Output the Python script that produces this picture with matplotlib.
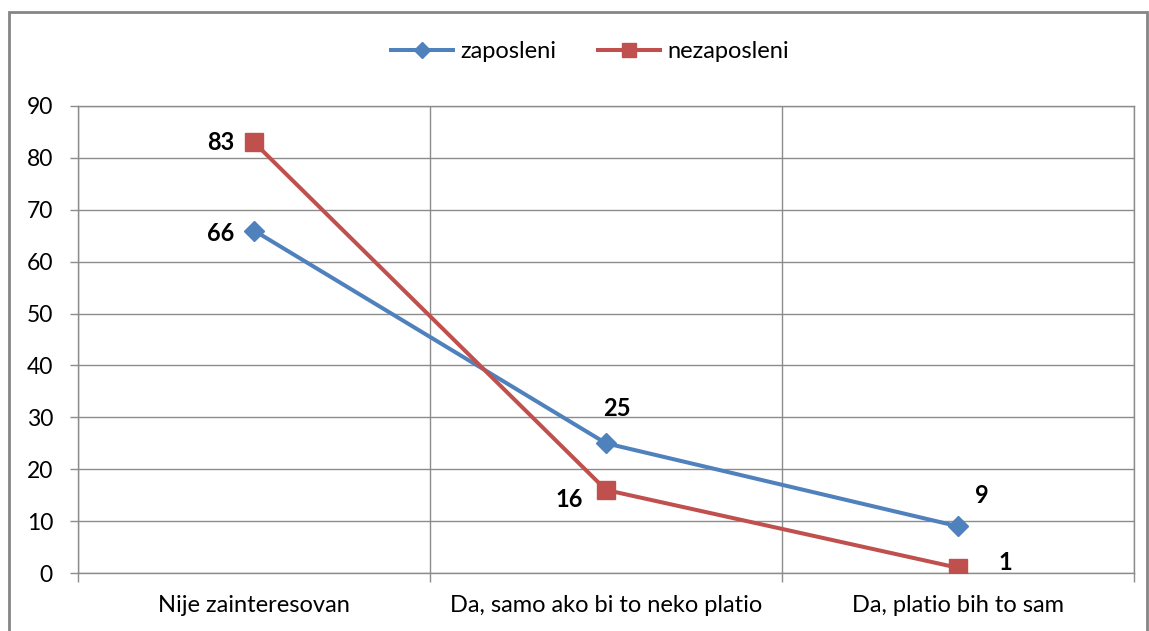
import matplotlib.pyplot as plt
from matplotlib.patches import Rectangle

plt.rcParams['font.family'] = ['Lato', 'DejaVu Sans']

categories = ["Nije zainteresovan", "Da, samo ako bi to neko platio", "Da, platio bih to sam"]
zaposleni = [66, 25, 9]
nezaposleni = [83, 16, 1]

# label offsets in pixels (dx, dy) from each point, plus alignment
zap_offsets = [(-20, -3, "right"), (11, 35, "center"), (24, 31, "center")]
nez_offsets = [(-20, 0, "right"), (-37, -10, "center"), (47, 5, "center")]

BLUE = "#4F81BD"
RED = "#C0504D"
GRID = "#8C8C8C"
PX = 0.72  # points per pixel at dpi 100

fig = plt.figure(figsize=(11.49, 6.31), dpi=100)
ax = fig.add_axes([78 / 1149, 1 - 573 / 631, (1134 - 78) / 1149, (573 - 106) / 631])

# outer chart frame
fig.patches.append(Rectangle((9 / 1149, -0.05), (1147 - 9) / 1149, 1.05 - 12 / 631,
                             transform=fig.transFigure, fill=False,
                             edgecolor="#858585", linewidth=2))

x = range(len(categories))
ax.plot(x, zaposleni, color=BLUE, linewidth=2.9, marker="D", markersize=10.5,
        label="zaposleni", zorder=3)
ax.plot(x, nezaposleni, color=RED, linewidth=2.9, marker="s", markersize=13.5,
        label="nezaposleni", zorder=4)

for vals, offs in [(zaposleni, zap_offsets), (nezaposleni, nez_offsets)]:
    for i, v in enumerate(vals):
        dx, dy, ha = offs[i]
        ax.annotate(str(v), (i, v), xytext=(dx * PX, dy * PX), textcoords="offset points",
                    ha=ha, va="center", fontsize=17, fontweight="bold", color="black")

ax.set_xlim(-0.5, 2.5)
ax.set_ylim(0, 90)
ax.set_yticks(range(0, 91, 10))
ax.set_xticks(list(x))
ax.set_xticklabels(categories)
ax.set_xticks([-0.5, 0.5, 1.5, 2.5], minor=True)

ax.tick_params(axis="x", which="major", length=0, pad=16, labelsize=17, colors="black")
ax.tick_params(axis="x", which="minor", length=6.5, width=1, color=GRID)
ax.tick_params(axis="y", length=6, width=1, color=GRID, labelsize=16.5, pad=12,
               labelcolor="black")

ax.grid(axis="y", color=GRID, linewidth=1)
ax.grid(axis="x", which="minor", color=GRID, linewidth=1)
ax.set_axisbelow(True)
for s in ax.spines.values():
    s.set_color(GRID)
    s.set_linewidth(1)

fig.legend(loc="center", bbox_to_anchor=(590 / 1149, 1 - 52 / 631), ncol=2,
           frameon=False, fontsize=17, handlelength=2.6, handletextpad=0.3,
           columnspacing=1.8, markerscale=0.75)

fig.savefig("out.png", dpi=100)
